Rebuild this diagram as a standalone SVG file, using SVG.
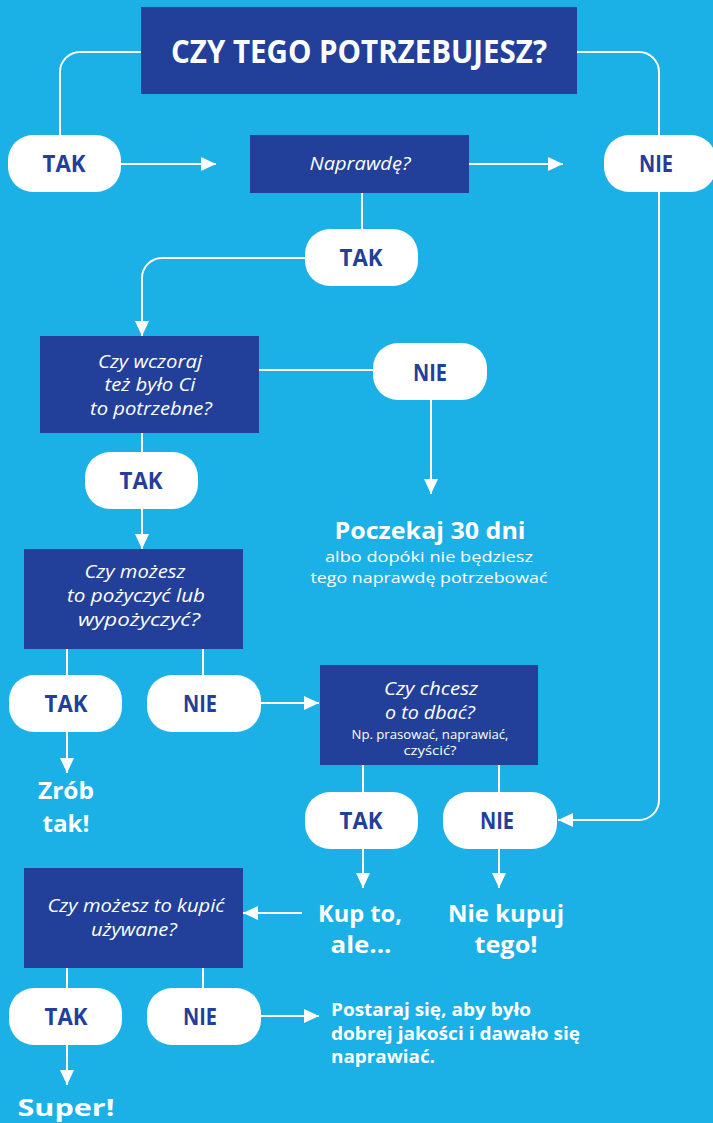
<svg xmlns="http://www.w3.org/2000/svg" width="713" height="1123" viewBox="0 0 713 1123">
<defs>
<marker id="ah" markerUnits="userSpaceOnUse" markerWidth="16" markerHeight="14" refX="15" refY="7" orient="auto">
<path d="M0,0 L15,7 L0,14 z" fill="#fff"/>
</marker>
<style>
.bg{fill:#1bb0e6}
.box{fill:#22409a}
.pill{fill:#fff}
.c{fill:none;stroke:#fff;stroke-width:2}
.a{fill:none;stroke:#fff;stroke-width:2;marker-end:url(#ah)}
.pt{font-family:"Open Sans","Liberation Sans",sans-serif;font-weight:700;font-size:24px;fill:#22409a;text-anchor:middle}
.q{font-family:"Open Sans","Liberation Sans",sans-serif;font-style:italic;font-size:18px;fill:#fff;text-anchor:middle}
.qs{font-family:"Open Sans","Liberation Sans",sans-serif;font-size:12px;fill:#fff;text-anchor:middle}
.r{font-family:"Open Sans","Liberation Sans",sans-serif;font-weight:700;font-size:24px;fill:#fff;text-anchor:middle}
.s{font-family:"Open Sans","Liberation Sans",sans-serif;font-size:15px;fill:#fff;text-anchor:middle}
.t{font-family:"Open Sans","Liberation Sans",sans-serif;font-weight:700;font-size:17px;fill:#fff}
</style>
</defs>
<rect class="bg" x="0" y="0" width="713" height="1123"/>
<g id="connectors">
<path class="c" d="M141,52 H80 A20,20 0 0 0 60,72 V140"/>
<path class="c" d="M577,52 H639 A20,20 0 0 1 659,72 V140"/>
<path class="a" d="M659,188 V800 A20,20 0 0 1 639,820 H558"/>
<path class="a" d="M121,164 H216"/>
<path class="a" d="M469,164 H563"/>
<path class="c" d="M362,193 V232"/>
<path class="a" d="M308,258 H162 A20,20 0 0 0 142,278 V336"/>
<path class="c" d="M259,370 H376"/>
<path class="a" d="M431,398 V494"/>
<path class="c" d="M142,433 V455"/>
<path class="a" d="M142,507 V549"/>
<path class="c" d="M67,649 V678"/>
<path class="c" d="M203,649 V678"/>
<path class="a" d="M261,703 H319"/>
<path class="a" d="M67,730 V773"/>
<path class="c" d="M363,765 V795"/>
<path class="c" d="M499,765 V795"/>
<path class="a" d="M363,847 V888"/>
<path class="a" d="M499,847 V888"/>
<path class="a" d="M302,913 H243"/>
<path class="c" d="M67,968 V991"/>
<path class="c" d="M203,968 V991"/>
<path class="a" d="M261,1016 H319"/>
<path class="a" d="M67,1043 V1085"/>
</g>
<g id="title">
<rect class="box" x="141" y="7" width="436" height="87"/>
<text x="359" y="63" font-family="'Open Sans','Liberation Sans',sans-serif" font-weight="700" font-size="32" fill="#fff" text-anchor="middle" textLength="376" lengthAdjust="spacingAndGlyphs">CZY TEGO POTRZEBUJESZ?</text>
</g>
<g id="tak1">
<rect class="pill" x="8" y="135" width="113" height="57" rx="25"/>
<text class="pt" x="64" y="172" textLength="43" lengthAdjust="spacingAndGlyphs">TAK</text>
</g>
<g id="naprawde">
<rect class="box" x="250" y="135" width="219" height="58"/>
<text class="q" x="360" y="170" textLength="101" lengthAdjust="spacingAndGlyphs">Naprawdę?</text>
</g>
<g id="nie1">
<rect class="pill" x="604" y="135" width="112" height="57" rx="25"/>
<text class="pt" x="656" y="172" textLength="34" lengthAdjust="spacingAndGlyphs">NIE</text>
</g>
<g id="tak2">
<rect class="pill" x="305" y="229" width="113" height="57" rx="25"/>
<text class="pt" x="361" y="266" textLength="43" lengthAdjust="spacingAndGlyphs">TAK</text>
</g>
<g id="wczoraj">
<rect class="box" x="40" y="336" width="219" height="97"/>
<text class="q" x="150" y="368" textLength="104" lengthAdjust="spacingAndGlyphs">Czy wczoraj</text>
<text class="q" x="150" y="391" textLength="91" lengthAdjust="spacingAndGlyphs">też było Ci</text>
<text class="q" x="151" y="415" textLength="122" lengthAdjust="spacingAndGlyphs">to potrzebne?</text>
</g>
<g id="nie2">
<rect class="pill" x="373" y="343" width="114" height="57" rx="25"/>
<text class="pt" x="430" y="381" textLength="34" lengthAdjust="spacingAndGlyphs">NIE</text>
</g>
<g id="poczekaj">
<text class="r" x="430" y="539" textLength="191" lengthAdjust="spacingAndGlyphs">Poczekaj 30 dni</text>
<text class="s" x="429" y="562" textLength="208" lengthAdjust="spacingAndGlyphs">albo dopóki nie będziesz</text>
<text class="s" x="429" y="583" textLength="237" lengthAdjust="spacingAndGlyphs">tego naprawdę potrzebować</text>
</g>
<g id="tak3">
<rect class="pill" x="85" y="452" width="113" height="57" rx="25"/>
<text class="pt" x="141" y="489" textLength="43" lengthAdjust="spacingAndGlyphs">TAK</text>
</g>
<g id="pozyczyc">
<rect class="box" x="24" y="549" width="219" height="100"/>
<text class="q" x="135" y="578" textLength="101" lengthAdjust="spacingAndGlyphs">Czy możesz</text>
<text class="q" x="136" y="602" textLength="138" lengthAdjust="spacingAndGlyphs">to pożyczyć lub</text>
<text class="q" x="139" y="626" textLength="122" lengthAdjust="spacingAndGlyphs">wypożyczyć?</text>
</g>
<g id="tak4">
<rect class="pill" x="9" y="675" width="113" height="57" rx="25"/>
<text class="pt" x="66" y="712" textLength="43" lengthAdjust="spacingAndGlyphs">TAK</text>
</g>
<g id="nie4">
<rect class="pill" x="147" y="675" width="114" height="57" rx="25"/>
<text class="pt" x="200" y="712" textLength="34" lengthAdjust="spacingAndGlyphs">NIE</text>
</g>
<g id="zrob">
<text class="r" x="66" y="799" textLength="56" lengthAdjust="spacingAndGlyphs">Zrób</text>
<text class="r" x="66" y="832" textLength="47" lengthAdjust="spacingAndGlyphs">tak!</text>
</g>
<g id="dbac">
<rect class="box" x="320" y="665" width="218" height="100"/>
<text class="q" x="431" y="695" textLength="94" lengthAdjust="spacingAndGlyphs">Czy chcesz</text>
<text class="q" x="430" y="719" textLength="90" lengthAdjust="spacingAndGlyphs">o to dbać?</text>
<text class="qs" x="430" y="739" textLength="157" lengthAdjust="spacingAndGlyphs">Np. prasować, naprawiać,</text>
<text class="qs" x="430" y="755" textLength="53" lengthAdjust="spacingAndGlyphs">czyścić?</text>
</g>
<g id="tak5">
<rect class="pill" x="305" y="792" width="113" height="57" rx="25"/>
<text class="pt" x="361" y="829" textLength="43" lengthAdjust="spacingAndGlyphs">TAK</text>
</g>
<g id="nie5">
<rect class="pill" x="443" y="792" width="114" height="57" rx="25"/>
<text class="pt" x="497" y="829" textLength="34" lengthAdjust="spacingAndGlyphs">NIE</text>
</g>
<g id="kupto">
<text class="r" x="360" y="922" textLength="84" lengthAdjust="spacingAndGlyphs">Kup to,</text>
<text class="r" x="361" y="953" textLength="61" lengthAdjust="spacingAndGlyphs">ale...</text>
</g>
<g id="niekupuj">
<text class="r" x="506" y="922" textLength="116" lengthAdjust="spacingAndGlyphs">Nie kupuj</text>
<text class="r" x="506" y="953" textLength="63" lengthAdjust="spacingAndGlyphs">tego!</text>
</g>
<g id="uzywane">
<rect class="box" x="24" y="868" width="219" height="100"/>
<text class="q" x="136" y="912" textLength="177" lengthAdjust="spacingAndGlyphs">Czy możesz to kupić</text>
<text class="q" x="134" y="936" textLength="86" lengthAdjust="spacingAndGlyphs">używane?</text>
</g>
<g id="tak6">
<rect class="pill" x="9" y="988" width="113" height="57" rx="25"/>
<text class="pt" x="66" y="1025" textLength="43" lengthAdjust="spacingAndGlyphs">TAK</text>
</g>
<g id="nie6">
<rect class="pill" x="147" y="988" width="114" height="57" rx="25"/>
<text class="pt" x="200" y="1025" textLength="34" lengthAdjust="spacingAndGlyphs">NIE</text>
</g>
<g id="postaraj">
<text class="t" x="331" y="1016" textLength="200" lengthAdjust="spacingAndGlyphs">Postaraj się, aby było</text>
<text class="t" x="331" y="1040" textLength="249" lengthAdjust="spacingAndGlyphs">dobrej jakości i dawało się</text>
<text class="t" x="331" y="1063" textLength="104" lengthAdjust="spacingAndGlyphs">naprawiać.</text>
</g>
<g id="super">
<text class="r" x="66" y="1116" font-size="30" textLength="97" lengthAdjust="spacingAndGlyphs">Super!</text>
</g>
</svg>
